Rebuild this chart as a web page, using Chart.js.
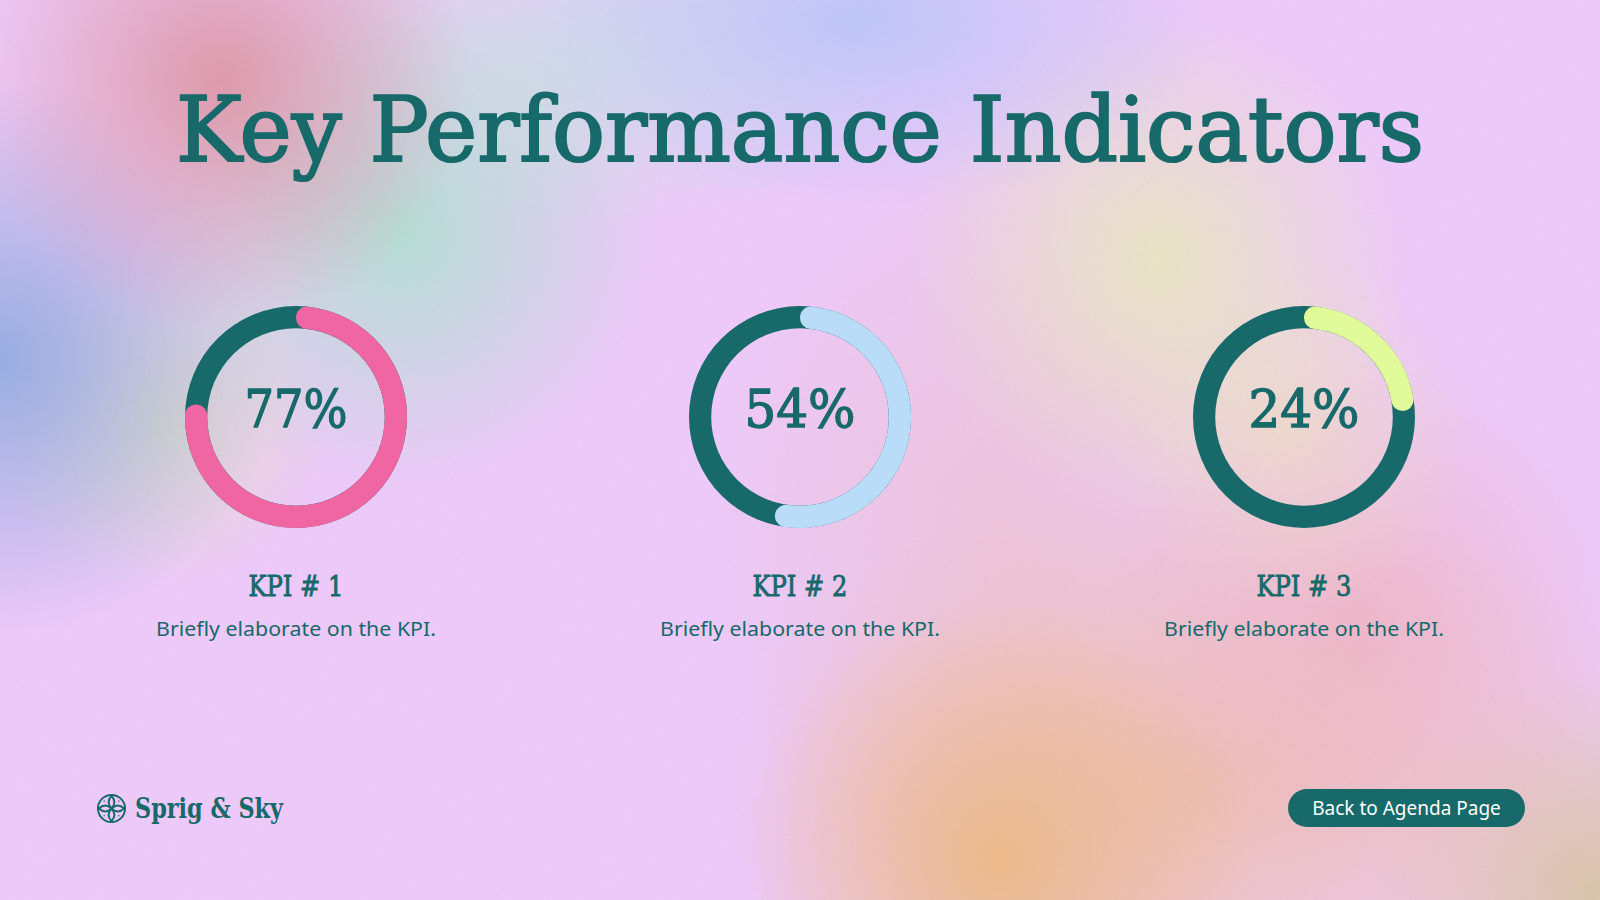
<!DOCTYPE html>
<html>
<head>
<meta charset="utf-8">
<script src="https://cdn.jsdelivr.net/npm/chart.js"></script>
<style>
  html, body { margin: 0; padding: 0; }
  body { width: 1600px; height: 900px; overflow: hidden; }
  #slide {
    position: relative; width: 1600px; height: 900px; overflow: hidden;
    color: #17696a;
    background:
      radial-gradient(circle at 220px 80px, rgba(222,150,165,0.95) 0, rgba(222,150,165,0) 250px),
      radial-gradient(circle at 400px 230px, rgba(176,224,210,0.95) 0, rgba(176,224,210,0) 260px),
      radial-gradient(circle at 0px 360px, rgba(150,172,226,1) 0, rgba(150,172,226,0) 280px),
      radial-gradient(circle at 160px 420px, rgba(226,228,186,0.8) 0, rgba(226,228,186,0) 170px),
      radial-gradient(ellipse 360px 190px at 860px 20px, rgba(188,198,250,0.95), rgba(188,198,250,0)),
      radial-gradient(ellipse 300px 170px at 600px 60px, rgba(208,226,232,0.85), rgba(208,226,232,0)),
      radial-gradient(circle at 1160px 260px, rgba(234,232,190,0.9) 0, rgba(234,232,190,0) 250px),
      radial-gradient(circle at 1290px 430px, rgba(240,220,196,0.75) 0, rgba(240,220,196,0) 180px),
      radial-gradient(circle at 1360px 620px, rgba(240,180,196,0.8) 0, rgba(240,180,196,0) 260px),
      radial-gradient(circle at 1000px 860px, rgba(238,186,136,1) 0, rgba(238,186,136,0) 260px),
      radial-gradient(ellipse 480px 300px at 1200px 780px, rgba(238,190,170,0.9), rgba(238,190,170,0)),
      radial-gradient(circle at 1590px 890px, rgba(216,198,170,1) 0, rgba(216,198,170,0) 220px),
      radial-gradient(ellipse 300px 380px at 1000px 520px, rgba(238,194,210,0.75), rgba(238,194,210,0)),
      #efcafc;
  }
  #grain { position: absolute; left: 0; top: 0; width: 1600px; height: 900px; opacity: 0.10; pointer-events: none; }
  .serif { font-family: "DejaVu Serif", serif; }
  .sans { font-family: "Noto Sans", "Open Sans", sans-serif; }
  .abs { position: absolute; white-space: nowrap; }
  #title { left: 800px; top: 130px; font-size: 90px; line-height: 1; font-weight: normal; -webkit-text-stroke: 2.2px #17696a; }
  .ring { position: absolute; width: 222px; height: 222px; }
  .pct { top: 409px; font-size: 52px; line-height: 1; font-weight: normal; -webkit-text-stroke: 1.4px #17696a; }
  .kpi { top: 587px; font-size: 28px; line-height: 1; font-weight: normal; -webkit-text-stroke: 0.9px #17696a; }
  .note { top: 629px; font-size: 19px; line-height: 1; }
  #brand { left: 135px; top: 808px; font-size: 27px; font-weight: bold; line-height: 1; }
  #logo { position: absolute; left: 96px; top: 793px; width: 31px; height: 31px; }
  #btn {
    position: absolute; left: 1288px; top: 789px; width: 237px; height: 38px;
    border-radius: 19px; background: #17696a; color: #ffffff;
    font-size: 19px; line-height: 38px; text-align: center;
  }
</style>
</head>
<body>
<div id="slide">
  <svg id="grain" xmlns="http://www.w3.org/2000/svg">
    <filter id="noise"><feTurbulence type="fractalNoise" baseFrequency="0.9" numOctaves="2" stitchTiles="stitch"/><feColorMatrix type="saturate" values="0"/></filter>
    <rect width="100%" height="100%" filter="url(#noise)"/>
  </svg>
  <div id="title" class="abs serif">Key Performance Indicators</div>
  <svg id="logo" viewBox="0 0 32 32" xmlns="http://www.w3.org/2000/svg" fill="none" stroke="#17696a" stroke-width="2">
    <circle cx="16" cy="16" r="14"/>
    <path d="M16 3 Q10 9.5 16 16 Q22 9.5 16 3 Z"/>
    <path d="M16 29 Q10 22.5 16 16 Q22 22.5 16 29 Z"/>
    <path d="M3 16 Q9.5 10 16 16 Q9.5 22 3 16 Z"/>
    <path d="M29 16 Q22.5 10 16 16 Q22.5 22 29 16 Z"/>
    <circle cx="8.5" cy="8.5" r="0.8" fill="#17696a" stroke="none"/>
    <circle cx="23.5" cy="8.5" r="0.8" fill="#17696a" stroke="none"/>
    <circle cx="8.5" cy="23.5" r="0.8" fill="#17696a" stroke="none"/>
    <circle cx="23.5" cy="23.5" r="0.8" fill="#17696a" stroke="none"/>
  </svg>
  <div id="brand" class="abs serif">Sprig &amp; Sky</div>
  <div id="btn" class="sans">Back to Agenda Page</div>
</div>
<script>
// KPI data
const kpiLabels = ['KPI # 1', 'KPI # 2', 'KPI # 3'];
const kpiValues = [77, 54, 24];
const kpiColors = ['#ef66a2', '#b9ddf8', '#e1fb9b'];
const kpiNotes = ['Briefly elaborate on the KPI.', 'Briefly elaborate on the KPI.', 'Briefly elaborate on the KPI.'];
const trackColor = '#17696a';

const slide = document.getElementById('slide');
const centersX = [296, 800, 1304];
const ringTop = 306;

// squeeze a text box horizontally to a target width
function fitWidth(el, target, centered) {
    const w = el.getBoundingClientRect().width;
    const sx = target / w;
    el.style.transformOrigin = centered ? 'center center' : 'left center';
    el.style.transform = (centered ? 'translate(-50%, -50%) ' : 'translateY(-50%) ') + 'scaleX(' + sx + ')';
}

function addText(cls, text, x, target) {
    const el = document.createElement('div');
    el.className = 'abs ' + cls;
    el.textContent = text;
    el.style.left = x + 'px';
    slide.appendChild(el);
    fitWidth(el, target, true);
    return el;
}

// full ring drawn behind the value arc, using the arc's own geometry
const trackPlugin = {
    id: 'track',
    beforeDatasetsDraw(chart) {
        const arc = chart.getDatasetMeta(0).data[0];
        const p = arc.getProps(['x', 'y', 'innerRadius', 'outerRadius'], true);
        const ctx = chart.ctx;
        ctx.save();
        ctx.beginPath();
        ctx.arc(p.x, p.y, p.outerRadius, 0, Math.PI * 2);
        ctx.arc(p.x, p.y, p.innerRadius, 0, Math.PI * 2, true);
        ctx.fillStyle = trackColor;
        ctx.fill();
        ctx.restore();
    }
};

kpiValues.forEach((v, i) => {
    const canvas = document.createElement('canvas');
    canvas.className = 'ring';
    canvas.style.left = (centersX[i] - 111) + 'px';
    canvas.style.top = ringTop + 'px';
    canvas.width = 222;
    canvas.height = 222;
    slide.appendChild(canvas);
    new Chart(canvas.getContext('2d'), {
        type: 'doughnut',
        data: {
            labels: [kpiLabels[i], 'rest'],
            datasets: [{
                data: [v, 100 - v],
                backgroundColor: [kpiColors[i], 'rgba(0,0,0,0)'],
                borderWidth: 0,
                borderRadius: ctx => ctx.dataIndex === 0 ? 11 : 0,
                hoverOffset: 0
            }]
        },
        options: {
            responsive: false,
            animation: false,
            cutout: '80%',
            events: [],
            layout: { padding: 0 },
            plugins: { legend: { display: false }, tooltip: { enabled: false } }
        },
        plugins: [trackPlugin]
    });
});

const pctWidths = [103, 111, 111];
kpiValues.forEach((v, i) => {
    addText('serif pct', v + '%', centersX[i], pctWidths[i]);
    addText('serif kpi', kpiLabels[i], centersX[i], 95);
    addText('sans note', kpiNotes[i], centersX[i], 280);
});

fitWidth(document.getElementById('title'), 1248, true);
fitWidth(document.getElementById('brand'), 148, false);
</script>
</body>
</html>
